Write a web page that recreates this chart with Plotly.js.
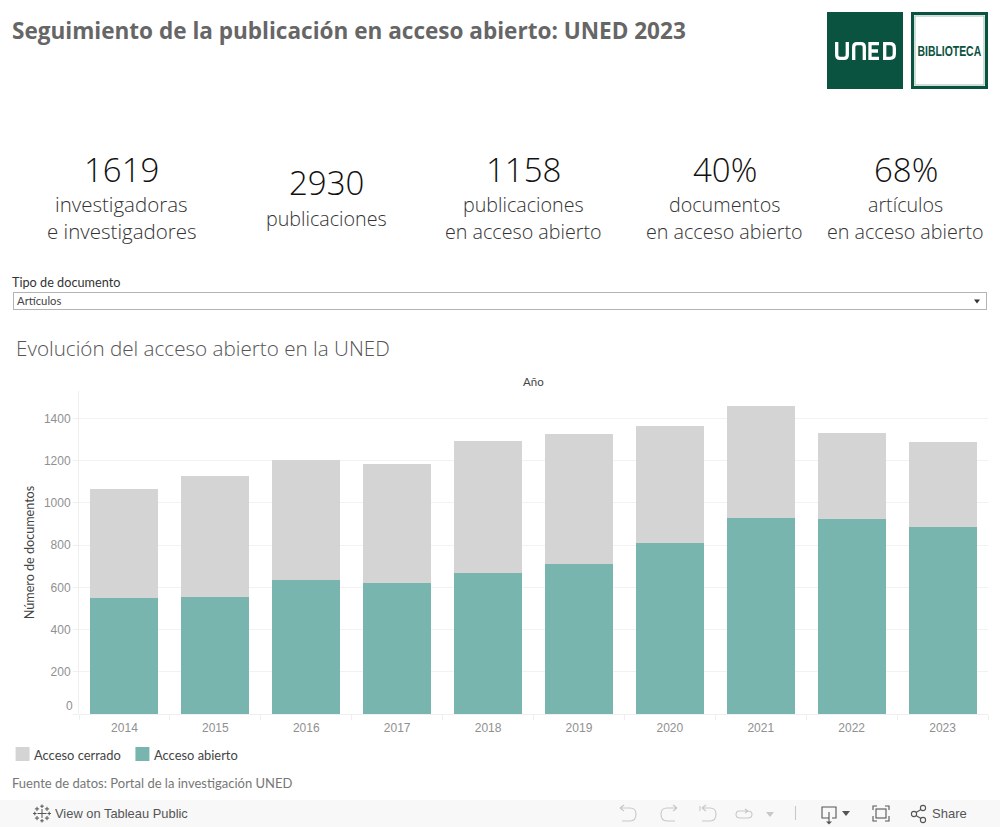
<!DOCTYPE html>
<html><head><meta charset="utf-8">
<script src="https://cdn.plot.ly/plotly-3.0.1.min.js"></script>
<style>
html,body{margin:0;padding:0;background:#fff;overflow:hidden}
#wrap{position:relative;width:1000px;height:827px}
#chart{position:absolute;left:0;top:0;width:1000px;height:827px}
#over{position:absolute;left:0;top:0;pointer-events:none}
</style></head><body>
<div id="wrap"><div id="chart"></div>
<svg id="over" width="1000" height="827" xmlns="http://www.w3.org/2000/svg">
  <rect x="827" y="12" width="76" height="77" fill="#0a5340"/>
  <g fill="none" stroke="#fff" stroke-width="3.3">
    <path d="M836.7 42V55Q836.7 58.3 840 58.3H844Q847.3 58.3 847.3 55V42"/>
    <path d="M853.7 60V47Q853.7 43.7 857 43.7H861Q864.3 43.7 864.3 47V60"/>
    <path d="M879 43.7H870V58.3H879M870 51H878"/>
    <path d="M884.7 43.7H890Q894.3 43.7 894.3 48V54Q894.3 58.3 890 58.3H884.7Z"/>
  </g>
  <rect x="912.5" y="13.5" width="74" height="74" fill="#fff" stroke="#0a5340" stroke-width="3"/>
  <rect x="915" y="16" width="69" height="69" fill="none" stroke="#9dbfb5" stroke-width="1"/>
  <text transform="translate(917.5 56) scale(0.745 1)" font-family="Liberation Sans" font-weight="700" font-size="14" fill="#0a5340">BIBLIOTECA</text>

  <rect x="13.5" y="292.5" width="973" height="17" fill="#fff" stroke="#b4b4b4"/>
  <text x="17" y="304.5" font-family="Lato" font-size="11.3" fill="#444">Artículos</text>
  <path d="M974 299.5H980L977 303.5Z" fill="#333"/>

  <rect x="0" y="800" width="1000" height="27" fill="#f8f8f8"/>
  <g stroke="#555" stroke-width="1" fill="none">
    <path d="M42 809V818M37.5 813.5H46.5"/>
    <path d="M42 804.5V808M40.2 806.2H43.8M42 819V822.5M40.2 820.8H43.8M33 813.5H36.5M34.8 811.7V815.3M47.5 813.5H51M49.2 811.7V815.3"/>
    <path d="M37 806.8V811M34.9 808.9H39.1M47 806.8V811M44.9 808.9H49.1M37 816V820.2M34.9 818.1H39.1M47 816V820.2M44.9 818.1H49.1"/>
  </g>
  <text x="55" y="818" font-family="Liberation Sans" font-size="12.9" fill="#555">View on Tableau Public</text>
  <g stroke="#c8c8c8" stroke-width="1.1" fill="none">
    <path d="M620 808H630Q636 808 636 814Q636 821 630 821H622M620 808L624 805M620 808L624 811"/>
    <path d="M677 808H667Q661 808 661 814Q661 821 667 821H675M677 808L673 805M677 808L673 811"/>
    <path d="M700 806V811M702 808H710Q716 808 716 814Q716 821 710 821H702M702 808L706 805M702 808L706 811"/>
    <path d="M738 811H748Q752 811 752 814.5Q752 818 748 818H740Q736 818 736 814.5Q736 812 738 811M748 811L745 809M748 811L745 813"/>
    <path d="M795.5 806V820"/>
  </g>
  <path d="M766 812H774L770 817Z" fill="#c8c8c8"/>
  <g stroke="#555" stroke-width="1.1" fill="none">
    <path d="M829 818H822V807H836V818H832M829 812V822"/>
    <path d="M873 810V806H877M885 806H889V810M889 816V821H885M877 821H873V816"/>
    <rect x="876" y="809" width="10" height="9"/>
    <circle cx="914" cy="814" r="2.6"/><circle cx="923" cy="808" r="2.6"/><circle cx="923" cy="820" r="2.6"/>
    <path d="M916 812.5L921 809.5M916 815.5L921 818.5"/>
  </g>
  <path d="M826 821.5H832L829 824.5Z" fill="#555"/>
  <path d="M842 811H850L846 816Z" fill="#555"/>
  <text x="932" y="818" font-family="Liberation Sans" font-size="13" fill="#555">Share</text>
</svg></div>
<script>
const years = ['2014','2015','2016','2017','2018','2019','2020','2021','2022','2023'];
const abierto = [549,554,635,620,668,710,810,928,924,886];
const cerrado = [517,573,568,564,625,616,554,531,407,402];
const seriesNames = ['Acceso cerrado','Acceso abierto'];
const seriesColors = ['#d4d4d4','#78b5af'];
const kpiValues = ['1619','2930','1158','40%','68%'];
const kpiLine1 = ['investigadoras','publicaciones','publicaciones','documentos','artículos'];
const kpiLine2 = ['e investigadores','','en acceso abierto','en acceso abierto','en acceso abierto'];
const kpiCenter = [121.5,326,523,725,906];
const kpiLabelSize = [20.5,19.7,19.7,19.7,19.7];
const yTicks = [0,200,400,600,800,1000,1200,1400];

const L=78.5,R=988.5,T=391,B=714;
const X=p=>(p-L)/(R-L), Y=p=>(B-p)/(B-T);
const ann=[];
function txt(text,x,y,size,color,family,anchor,weight){
  ann.push({text,x:X(x),y:Y(y),xref:'paper',yref:'paper',showarrow:false,
    xanchor:anchor||'left',yanchor:'middle',font:{size,color,family,weight:weight||400},borderpad:0,borderwidth:0});
}
const light='"Open Sans"', lato='Lato', ar='"Liberation Sans"';
kpiValues.forEach((v,i)=>{
  const solo=kpiLine2[i]==='';
  txt(v,kpiCenter[i],solo?183:169,33,'#111',light,'center',300);
  txt(kpiLine1[i],kpiCenter[i],solo?218:204,kpiLabelSize[i],'#333',light,'center',300);
  if(!solo) txt(kpiLine2[i],kpiCenter[i],231,kpiLabelSize[i],'#333',light,'center',300);
});
txt('Tipo de documento',11,281.5,12.7,'#333',lato);
txt('Evolución del acceso abierto en la UNED',15,348,20.65,'#555',light,'left',300);
txt('Año',533,382,11.5,'#444',lato,'center');
txt('0',72,706,12,'#909090',ar,'right');
txt(seriesNames[0],33,754.5,12.9,'#444',lato);
txt(seriesNames[1],153.5,754.5,12.9,'#444',lato);
txt('Fuente de datos: Portal de la investigación UNED',11,782.5,13,'#777',lato);

const legendShapes=[15,135].map((x,i)=>({type:'rect',xref:'paper',yref:'paper',
  x0:X(x),x1:X(x+14),y0:Y(761),y1:Y(747),fillcolor:seriesColors[i],line:{width:0}}));

Plotly.newPlot('chart',[
 {type:'bar',name:seriesNames[1],x:years,y:abierto,marker:{color:seriesColors[1]},showlegend:false},
 {type:'bar',name:seriesNames[0],x:years,y:cerrado,marker:{color:seriesColors[0]},showlegend:false}
],{
 width:1000,height:827,
 margin:{l:L,r:1000-R,t:T,b:827-B,pad:0},
 paper_bgcolor:'rgba(0,0,0,0)',plot_bgcolor:'rgba(0,0,0,0)',
 barmode:'stack',bargap:0.2527,
 title:{text:'<b>Seguimiento de la publicación en acceso abierto: UNED 2023</b>',x:0.012,xanchor:'left',y:0.9625,yanchor:'middle',
        font:{family:'"Open Sans"',size:22.55,color:'#666666'}},
 xaxis:{type:'category',tickson:'boundaries',ticks:'outside',ticklen:5,tickcolor:'#efefef',tickwidth:1,ticklabelstandoff:5,
        showgrid:false,zeroline:false,showline:false,
        tickfont:{family:'"Liberation Sans"',size:12,color:'#909090'}},
 yaxis:{range:[0,1530],tickmode:'array',tickvals:yTicks,ticktext:yTicks.map(v=>v===0?'':String(v)),
        ticks:'outside',ticklen:5,tickcolor:'#efefef',tickwidth:1,
        showgrid:true,gridcolor:'#f2f2f2',gridwidth:1,zeroline:true,zerolinecolor:'#efefef',zerolinewidth:1,
        showline:true,linecolor:'#efefef',linewidth:1,
        title:{text:'Número de documentos',standoff:6,font:{family:'Lato',size:12.6,color:'#444'}},
        tickfont:{family:'"Liberation Sans"',size:12,color:'#909090'}},
 annotations:ann,shapes:legendShapes
},{displayModeBar:false,staticPlot:true});
</script></body></html>
